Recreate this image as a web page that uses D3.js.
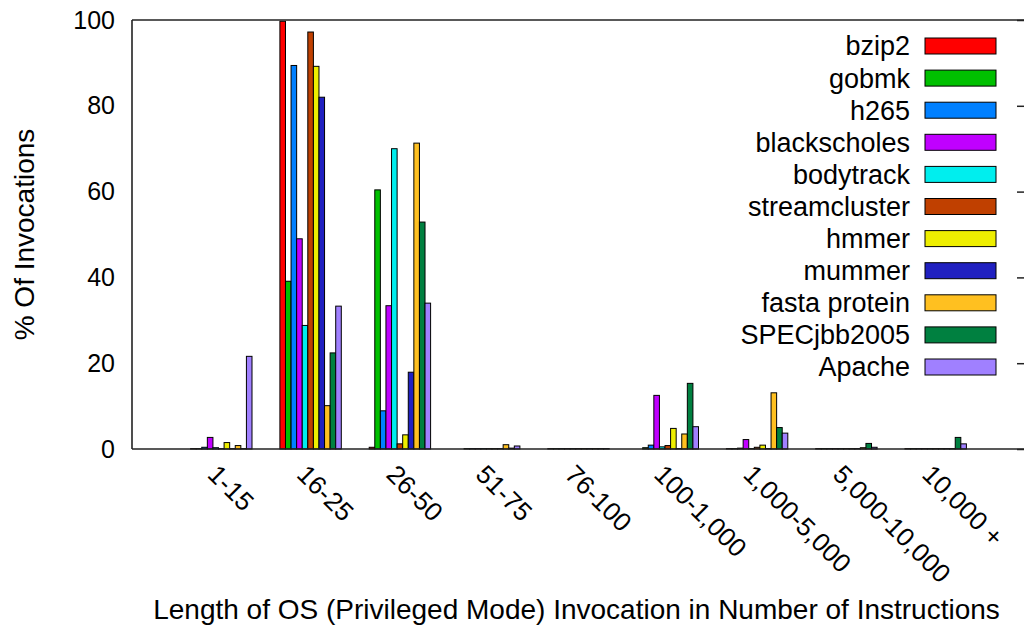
<!DOCTYPE html>
<html>
<head>
<meta charset="utf-8">
<script src="https://cdn.jsdelivr.net/npm/d3@7"></script>
<style>
    body { margin: 0; background: #fff; }
    svg { display: block; font-family: "Liberation Sans", Arial, sans-serif; }
</style>
</head>
<body>
<div id="chart"></div>
<script>
/* Instruction-length buckets on the x axis. */
var categories = ["1-15", "16-25", "26-50", "51-75", "76-100",
    "100-1,000", "1,000-5,000", "5,000-10,000", "10,000 +"];

var seriesNames = ["bzip2", "gobmk", "h265", "blackscholes", "bodytrack",
    "streamcluster", "hmmer", "mummer", "fasta protein", "SPECjbb2005", "Apache"];

/* % of invocations per bucket, one array per workload. */
var bzip2         = [0.1, 99.7,  0.4, 0.0, 0.1,  0.0,  0.1, 0.1, 0.1];
var gobmk         = [0.1, 39.1, 60.4, 0.1, 0.1,  0.3,  0.1, 0.1, 0.1];
var h265          = [0.4, 89.4,  8.9, 0.1, 0.1,  0.9,  0.2, 0.1, 0.1];
var blackscholes  = [2.7, 49.0, 33.4, 0.1, 0.1, 12.5,  2.2, 0.1, 0.1];
var bodytrack     = [0.3, 28.8, 70.0, 0.1, 0.1,  0.5,  0.1, 0.1, 0.1];
var streamcluster = [0.1, 97.2,  1.2, 0.1, 0.1,  0.8,  0.4, 0.1, 0.1];
var hmmer         = [1.5, 89.2,  3.3, 0.1, 0.1,  4.8,  0.9, 0.1, 0.1];
var mummer        = [0.1, 82.0, 17.9, 0.1, 0.1,  0.1,  0.1, 0.1, 0.1];
var fastaProtein  = [0.8, 10.1, 71.3, 1.0, 0.1,  3.5, 13.1, 0.3, 0.1];
var specjbb2005   = [0.1, 22.4, 52.9, 0.2, 0.1, 15.3,  5.0, 1.3, 2.7];
var apache        = [21.6, 33.3, 34.0, 0.7, 0.1, 5.2,  3.7, 0.4, 1.2];

var yTicks = [0, 20, 40, 60, 80, 100];

var seriesValues = [bzip2, gobmk, h265, blackscholes, bodytrack,
    streamcluster, hmmer, mummer, fastaProtein, specjbb2005, apache];

var seriesColors = ["#ff0000", "#00c000", "#0080ff", "#c000ff", "#00eeee",
    "#c04000", "#eeee00", "#2020c0", "#ffc020", "#008040", "#a080ff"];

drawChart();

function drawChart() {
    var width = 1024, height = 639;
    var plotLeft = 132, plotRight = 1025, plotTop = 20, plotBottom = 449;

    var svg = d3.select("#chart").append("svg")
        .attr("width", width)
        .attr("height", height);

    var x = d3.scaleLinear().domain([-1, categories.length]).range([plotLeft, plotRight]);
    var y = d3.scaleLinear().domain([0, 100]).range([plotBottom, plotTop]);

    /* gnuplot style clustered histogram: 11 bars + gap of 5 */
    var barW = (x(1) - x(0)) / (seriesNames.length + 5);

    var rows = [];
    seriesValues.forEach(function(vals, j) {
        vals.forEach(function(v, i) {
            rows.push({ series: j, cat: i, value: v });
        });
    });

    svg.append("g")
        .selectAll("rect")
        .data(rows)
        .enter().append("rect")
        .attr("x", function(d) { return x(d.cat) + (d.series - 5.5) * barW; })
        .attr("y", function(d) { return y(d.value); })
        .attr("width", barW)
        .attr("height", function(d) { return y(0) - y(d.value); })
        .attr("fill", function(d) { return seriesColors[d.series]; })
        .attr("stroke", "#000")
        .attr("stroke-width", 1);

    /* frame: left, top, bottom (the right edge falls off the canvas) */
    var frame = svg.append("g").attr("stroke", "#222").attr("stroke-width", 1.6);
    frame.append("line").attr("x1", plotLeft).attr("x2", plotLeft).attr("y1", plotTop).attr("y2", plotBottom);
    frame.append("line").attr("x1", plotLeft).attr("x2", plotRight).attr("y1", plotTop).attr("y2", plotTop);
    frame.append("line").attr("x1", plotLeft).attr("x2", plotRight).attr("y1", plotBottom).attr("y2", plotBottom);

    /* y axis labels */
    var yAxis = svg.append("g")
        .attr("transform", "translate(" + plotLeft + ",0)")
        .call(d3.axisLeft(y).tickValues(yTicks).tickSize(0).tickPadding(17));
    yAxis.select(".domain").remove();
    yAxis.selectAll("text")
        .attr("font-size", 25)
        .attr("font-family", "Liberation Sans, Arial, sans-serif")
        .attr("fill", "#000");

    /* mirrored ticks on the right */
    var yRight = svg.append("g")
        .attr("transform", "translate(" + plotRight + ",0)")
        .call(d3.axisRight(y).tickValues(yTicks).tickSize(-8).tickFormat(""));
    yRight.select(".domain").remove();
    yRight.selectAll("line").attr("stroke", "#222").attr("stroke-width", 1.5);

    /* x axis labels, rotated */
    svg.append("g")
        .selectAll("text")
        .data(categories)
        .enter().append("text")
        .attr("transform", function(d, i) {
            return "translate(" + (x(i) - 15) + "," + (plotBottom + 27) + ") rotate(45)";
        })
        .attr("font-size", 26)
        .attr("text-anchor", "start")
        .text(function(d) { return d; });

    /* axis titles */
    svg.append("text")
        .attr("transform", "translate(34," + ((plotTop + plotBottom) / 2) + ") rotate(-90)")
        .attr("text-anchor", "middle")
        .attr("font-size", 28)
        .text("% Of Invocations");

    svg.append("text")
        .attr("x", (plotLeft + plotRight) / 2 - 2)
        .attr("y", 619)
        .attr("text-anchor", "middle")
        .attr("font-size", 28)
        .text("Length of OS (Privileged Mode) Invocation in Number of Instructions");

    /* legend */
    var legend = svg.append("g")
        .selectAll("g")
        .data(seriesNames)
        .enter().append("g")
        .attr("transform", function(d, i) { return "translate(0," + (46 + i * 32.1) + ")"; });

    legend.append("text")
        .attr("x", 910)
        .attr("y", 0)
        .attr("dy", "0.35em")
        .attr("text-anchor", "end")
        .attr("font-size", 27)
        .text(function(d) { return d; });

    legend.append("rect")
        .attr("x", 925)
        .attr("y", -8)
        .attr("width", 71)
        .attr("height", 16)
        .attr("fill", function(d, i) { return seriesColors[i]; })
        .attr("stroke", "#000")
        .attr("stroke-width", 1);
}
</script>
</body>
</html>
